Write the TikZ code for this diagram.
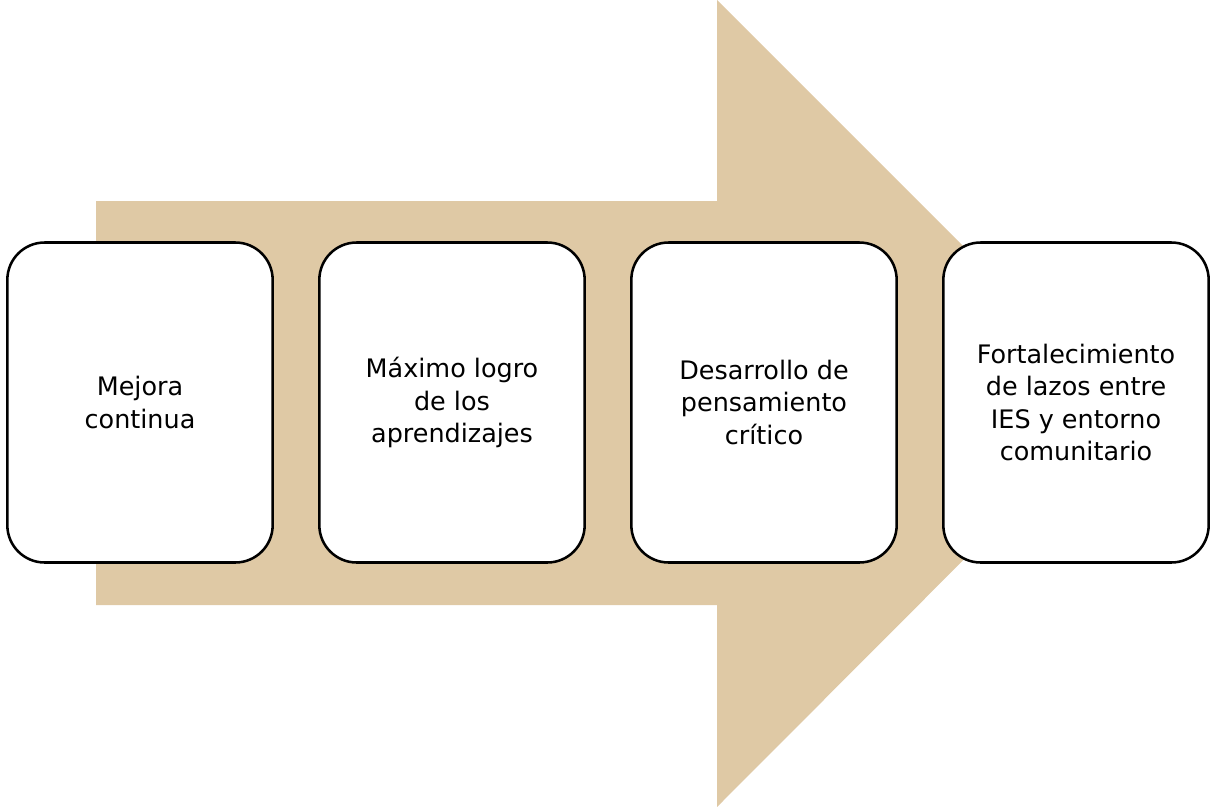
\documentclass[tikz,border=0pt]{standalone}
\usepackage{fontspec}
\setmainfont{DejaVu Sans}
\usetikzlibrary{positioning}
\definecolor{flecha}{HTML}{DFC9A5}

\begin{document}
\begin{tikzpicture}[x=0.75pt,y=-0.75pt,node distance=234pt,
    caja/.style={draw,line width=1.9pt,fill=white,rounded corners=28pt,
                 minimum width=199pt,minimum height=240pt,align=center,
                 font=\fontsize{19.1}{24.4}\selectfont}]
                  \useasboundingbox (0,0) rectangle (1211,807);
                  % flecha de fondo
                  \fill[flecha] (96,201) -- (717,201) -- (717,0) -- (1120,403)
                                -- (717,807) -- (717,605) -- (96,605) -- cycle;

                  \node[caja]  (1) at (140,402.5) {Mejora\\continua};
                  \node[caja]  (2) [right of=1] {Máximo logro\\de los\\aprendizajes};
                  \node[caja]  (3) [right of=2] {Desarrollo de\\pensamiento\\crítico};
                  \node[caja]  (4) [right of=3] {Fortalecimiento\\de lazos entre\\IES y entorno\\comunitario};
        \end{tikzpicture}
\end{document}
